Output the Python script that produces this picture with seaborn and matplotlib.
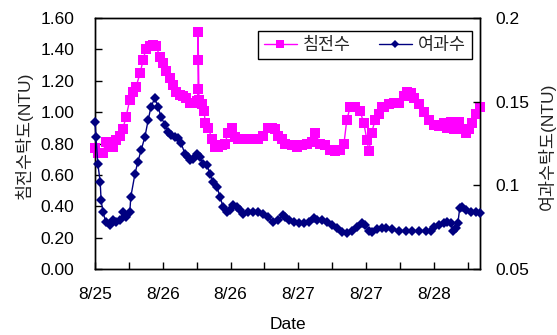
import numpy as np
import pandas as pd
import matplotlib
matplotlib.use("Agg")
import matplotlib.pyplot as plt
from matplotlib.lines import Line2D
from matplotlib.ticker import FixedLocator, FuncFormatter
import seaborn as sns

# Elapsed hours since the start of logging, and turbidity (NTU)
start_time = pd.Timestamp("2000-08-25 12:00")

settled_hours = [
    0.0, 0.6, 1.7, 2.3, 3.2, 3.8, 4.5, 5.3, 5.9, 6.6, 7.4, 8.1, 8.7, 9.6, 10.2,
    10.8, 11.7, 12.3, 13.0, 13.8, 14.4, 15.1, 15.9, 16.6, 17.2, 18.1, 18.7, 19.3,
    20.2, 21.2, 21.7, 21.9, 21.9, 21.9, 22.1, 22.7, 23.2, 23.4, 24.0, 24.9, 25.5,
    26.1, 27.0, 27.6, 28.3, 29.1, 29.7, 30.4, 31.4, 32.5, 33.6, 34.6, 35.7, 36.7,
    37.6, 38.2, 38.9, 39.7, 40.4, 41.8, 42.9, 44.0, 45.0, 46.1, 46.7, 47.8, 48.9,
    49.9, 51.0, 52.0, 52.9, 53.5, 54.2, 55.2, 56.3, 57.1, 57.8, 58.2, 58.8, 59.5,
    60.3, 61.0, 61.4, 62.4, 63.5, 64.6, 65.6, 66.3, 67.1, 67.8, 68.8, 69.9, 70.9,
    72.0, 73.1, 74.1, 74.8, 75.6, 76.3, 77.3, 78.0, 78.8, 79.4, 80.1, 80.9, 81.8,
]
settled_ntu = [
    0.77, 0.74, 0.74, 0.81, 0.80, 0.78, 0.82, 0.85, 0.89, 0.97, 1.08, 1.13, 1.16,
    1.25, 1.33, 1.40, 1.42, 1.43, 1.42, 1.35, 1.31, 1.26, 1.22, 1.17, 1.13, 1.11,
    1.10, 1.09, 1.06, 1.06, 1.07, 1.15, 1.33, 1.51, 1.08, 1.05, 1.01, 0.93, 0.90,
    0.83, 0.78, 0.78, 0.79, 0.80, 0.87, 0.90, 0.84, 0.83, 0.83, 0.83, 0.83, 0.83,
    0.85, 0.90, 0.90, 0.89, 0.85, 0.83, 0.80, 0.79, 0.78, 0.79, 0.80, 0.81, 0.87,
    0.80, 0.79, 0.76, 0.75, 0.76, 0.80, 0.95, 1.03, 1.03, 1.01, 0.93, 0.82, 0.75,
    0.87, 0.95, 0.99, 1.03, 1.03, 1.05, 1.06, 1.06, 1.10, 1.13, 1.12, 1.09, 1.05,
    1.00, 0.95, 0.92, 0.91, 0.93, 0.90, 0.94, 0.89, 0.94, 0.89, 0.87, 0.89, 0.93,
    0.99, 1.03,
]

filtered_hours = [
    0.0, 0.2, 0.6, 1.1, 1.3, 1.7, 2.3, 3.2, 3.8, 4.5, 5.3, 5.9, 6.6, 7.4, 7.6,
    8.5, 9.1, 9.8, 10.6, 11.3, 11.9, 12.7, 13.4, 14.0, 14.9, 15.5, 16.1, 17.0,
    17.6, 18.3, 19.1, 19.8, 20.2, 20.8, 21.7, 22.3, 22.9, 23.8, 24.4, 25.1, 25.9,
    26.6, 27.2, 28.0, 28.7, 29.3, 30.2, 30.8, 31.4, 32.5, 33.6, 34.6, 35.7, 36.7,
    37.8, 38.9, 39.9, 40.4, 41.2, 42.3, 43.3, 44.4, 45.5, 46.5, 47.2, 48.2, 49.3,
    50.3, 51.4, 52.5, 53.5, 54.6, 55.7, 56.7, 57.4, 58.2, 58.8, 59.9, 61.0, 61.8,
    63.1, 64.6, 66.1, 67.3, 68.8, 70.3, 71.4, 72.0, 73.1, 74.1, 74.8, 75.6, 76.0,
    76.7, 77.1, 77.5, 78.0, 78.8, 79.9, 80.9, 81.8,
]
filtered_ntu = [
    0.138, 0.129, 0.113, 0.102, 0.091, 0.084, 0.078, 0.076, 0.079, 0.078, 0.079,
    0.084, 0.081, 0.084, 0.093, 0.107, 0.114, 0.121, 0.129, 0.139, 0.147, 0.152,
    0.147, 0.141, 0.136, 0.132, 0.130, 0.129, 0.128, 0.125, 0.119, 0.117, 0.115,
    0.116, 0.119, 0.117, 0.113, 0.112, 0.107, 0.102, 0.099, 0.093, 0.087, 0.084,
    0.085, 0.088, 0.087, 0.085, 0.083, 0.084, 0.084, 0.084, 0.083, 0.081, 0.078,
    0.079, 0.082, 0.081, 0.079, 0.078, 0.0775, 0.0775, 0.078, 0.0805, 0.079,
    0.079, 0.078, 0.076, 0.0745, 0.072, 0.0715, 0.073, 0.075, 0.0775, 0.076,
    0.073, 0.072, 0.074, 0.0745, 0.0745, 0.074, 0.073, 0.0727, 0.0727, 0.0727,
    0.0727, 0.0727, 0.075, 0.076, 0.0775, 0.078, 0.0775, 0.073, 0.0745, 0.0775,
    0.0865, 0.087, 0.085, 0.084, 0.084, 0.0835,
]

series_names = ["침전수", "여과수"]
series_colors = ["#FF00FF", "#000080"]

left_ticks = [0.0, 0.2, 0.4, 0.6, 0.8, 1.0, 1.2, 1.4, 1.6]
right_ticks = [0.05, 0.1, 0.15, 0.2]
tick_step_hours = 7.2
x_end_hours = 81.8

sns.set_theme(style="white")
plt.rcParams["font.family"] = ["Liberation Sans", "Noto Sans CJK KR"]
plt.rcParams["axes.unicode_minus"] = False

fig = plt.figure(figsize=(5.57, 3.35), dpi=100)
ax = fig.add_axes([95 / 557, 66 / 335, 385 / 557, 251 / 335])

settled_df = pd.DataFrame({"hours": settled_hours, "ntu": settled_ntu})
filtered_df = pd.DataFrame({"hours": filtered_hours, "ntu": filtered_ntu})

# Dense logger readings: large markers merge into a continuous band
sns.lineplot(data=settled_df, x="hours", y="ntu", ax=ax, color=series_colors[0],
             marker="s", markersize=7.5, markeredgewidth=0, linewidth=1.0,
             estimator=None, sort=False, legend=False, clip_on=False, zorder=3)

ax2 = ax.twinx()
sns.lineplot(data=filtered_df, x="hours", y="ntu", ax=ax2, color=series_colors[1],
             marker="D", markersize=5.2, markeredgewidth=0, linewidth=1.0,
             estimator=None, sort=False, legend=False, clip_on=False, zorder=3)

ax.set_xlim(0, x_end_hours)
ax.set_ylim(0, 1.6)
ax2.set_ylim(0.05, 0.2)

x_ticks = np.arange(0, x_end_hours, tick_step_hours)
x_labels = [
    (start_time + pd.Timedelta(hours=float(h))).strftime("%-m/%d") if i % 2 == 0 else ""
    for i, h in enumerate(x_ticks)
]
ax.xaxis.set_major_locator(FixedLocator(x_ticks))
ax.set_xticklabels(x_labels)
ax.yaxis.set_major_locator(FixedLocator(left_ticks))
ax.yaxis.set_major_formatter(FuncFormatter(lambda v, p: f"{v:.2f}"))
ax2.yaxis.set_major_locator(FixedLocator(right_ticks))
ax2.yaxis.set_major_formatter(FuncFormatter(lambda v, p: f"{v:g}"))

for a in (ax, ax2):
    for sp in a.spines.values():
        sp.set_color("black")
        sp.set_linewidth(1.0)
    a.grid(False)

ax.tick_params(axis="x", direction="in", length=5, width=1, color="black",
               labelsize=12.5, pad=13, labelcolor="black", bottom=True)
ax.tick_params(axis="y", direction="in", length=5, width=1, color="black",
               labelsize=12.5, pad=15, labelcolor="black", left=True)
ax2.tick_params(axis="y", direction="in", length=5, width=1, color="black",
                labelsize=12.5, pad=11, labelcolor="black", right=True)

ax.set_xlabel("Date", fontsize=12.5, color="black")
ax.xaxis.set_label_coords(0.5, -0.192)
ax.set_ylabel("침전수탁도(NTU)", fontsize=12.5, color="#222222")
ax.yaxis.set_label_coords(-0.161, 0.534)
ax2.set_ylabel("여과수탁도(NTU)", fontsize=12.5, color="#222222", rotation=90)
ax2.yaxis.set_label_coords(1.151, 0.49)

# Legend keys use smaller markers than the plotted band
handles = [
    Line2D([], [], color=series_colors[0], marker="s", markersize=5.5,
           markeredgewidth=0, linewidth=1.0),
    Line2D([], [], color=series_colors[1], marker="D", markersize=3.8,
           markeredgewidth=0, linewidth=1.0),
]
leg = ax2.legend(handles, series_names, loc="upper right",
                 bbox_to_anchor=(0.979, 0.948), ncol=2, frameon=True,
                 fancybox=False, framealpha=1, edgecolor="black",
                 fontsize=12.5, handlelength=1.9, handletextpad=0.35,
                 columnspacing=1.6, borderpad=0.35, borderaxespad=0)
leg.get_frame().set_linewidth(1.0)

fig.savefig("out.png", dpi=100)
